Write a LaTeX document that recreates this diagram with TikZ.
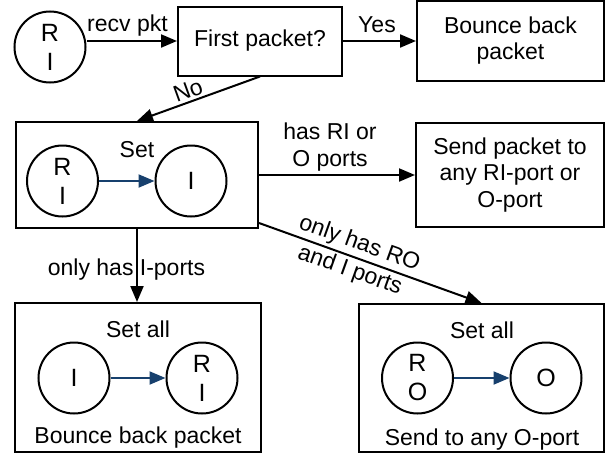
\documentclass[tikz,border=0pt]{standalone}
\usepackage{fontspec}
\setmainfont{Liberation Sans}
\usetikzlibrary{arrows.meta}
\definecolor{navy}{HTML}{17406D}
\begin{document}
\begin{tikzpicture}[x=1pt,y=-1pt,
  every node/.style={font=\fontsize{23}{27}\selectfont},
  box/.style={draw, line width=2pt, inner sep=0pt, align=center},
  port/.style={draw, circle, line width=2pt, minimum size=71pt, inner sep=0pt, align=center, font=\fontsize{25}{29}\selectfont},
  conn/.style={line width=2pt, -{Triangle[length=16pt,width=13pt]}},
  bconn/.style={line width=2pt, draw=navy, -{Triangle[length=16pt,width=13pt,fill=navy]}},
  lbl/.style={inner sep=0pt, align=center}
]
\useasboundingbox (0,0) rectangle (615,455);

% top row
\node[port] (ri) at (50,47) {R\\I};
\node[box, minimum width=164pt, minimum height=69pt] (first) at (260,41) {First packet?};
\node[box, minimum width=187pt, minimum height=80pt, font=\fontsize{23}{26}\selectfont] (bounce) at (510.5,41) {Bounce back\\packet};

% middle row
\node[box, minimum width=242pt, minimum height=106pt] (set) at (137,175) {};
\node[lbl] (settxt) at (137,149.5) {Set};
\node[port] (s1) at (62.5,181) {R\\I};
\node[port] (s2) at (191,181) {I};
\draw[bconn] (s1) -- (s2);

\node[box, minimum width=188pt, minimum height=104pt, font=\fontsize{23}{26.5}\selectfont] (send) at (510,175) {Send packet to\\any RI-port or\\O-port};

% bottom left
\node[box, minimum width=246pt, minimum height=149pt] (bl) at (138,377.5) {};
\node[lbl] (bltop) at (138,329.5) {Set all};
\node[port] (b1) at (74,378) {I};
\node[port] (b2) at (202,378) {R\\I};
\draw[bconn] (b1) -- (b2);
\node[lbl, anchor=base] (blbot) at (138,443) {Bounce back packet};

% bottom right
\node[box, minimum width=245pt, minimum height=148pt] (br) at (481.5,378) {};
\node[lbl] (brtop) at (482,330.5) {Set all};
\node[port] (r1) at (417.5,378) {R\\O};
\node[port] (r2) at (546,378) {O};
\draw[bconn] (r1) -- (r2);
\node[lbl, anchor=base] (brbot) at (482,445) {Send to any O-port};

% connectors
\draw[conn] (ri.east |- first.west) -- (first.west);
\node[lbl, anchor=base] (lrecv) at (127.5,31) {recv pkt};

\draw[conn] (first.east) -- (bounce.west);
\node[lbl, anchor=base] (lyes) at (377,32) {Yes};

\draw[conn] (first.south) -- (set.north);
\node[lbl, rotate=20] (lno) at (188,90.5) {No};

\draw[conn] (set.east |- send.west) -- (send.west);
\node[lbl] (lhas) at (330,147.5) {has RI or\\O ports};

\draw[conn] ([yshift=6pt]set.south east) -- node[lbl, sloped, pos=0.43, font=\fontsize{23}{28.5}\selectfont] (ldiag) {only has RO\\and I ports} (br.north);

\draw[conn] (set.south) -- (set.south |- bl.north);
\node[lbl, anchor=base] (lonly) at (126.5,275) {only has I-ports};
\end{tikzpicture}
\end{document}
